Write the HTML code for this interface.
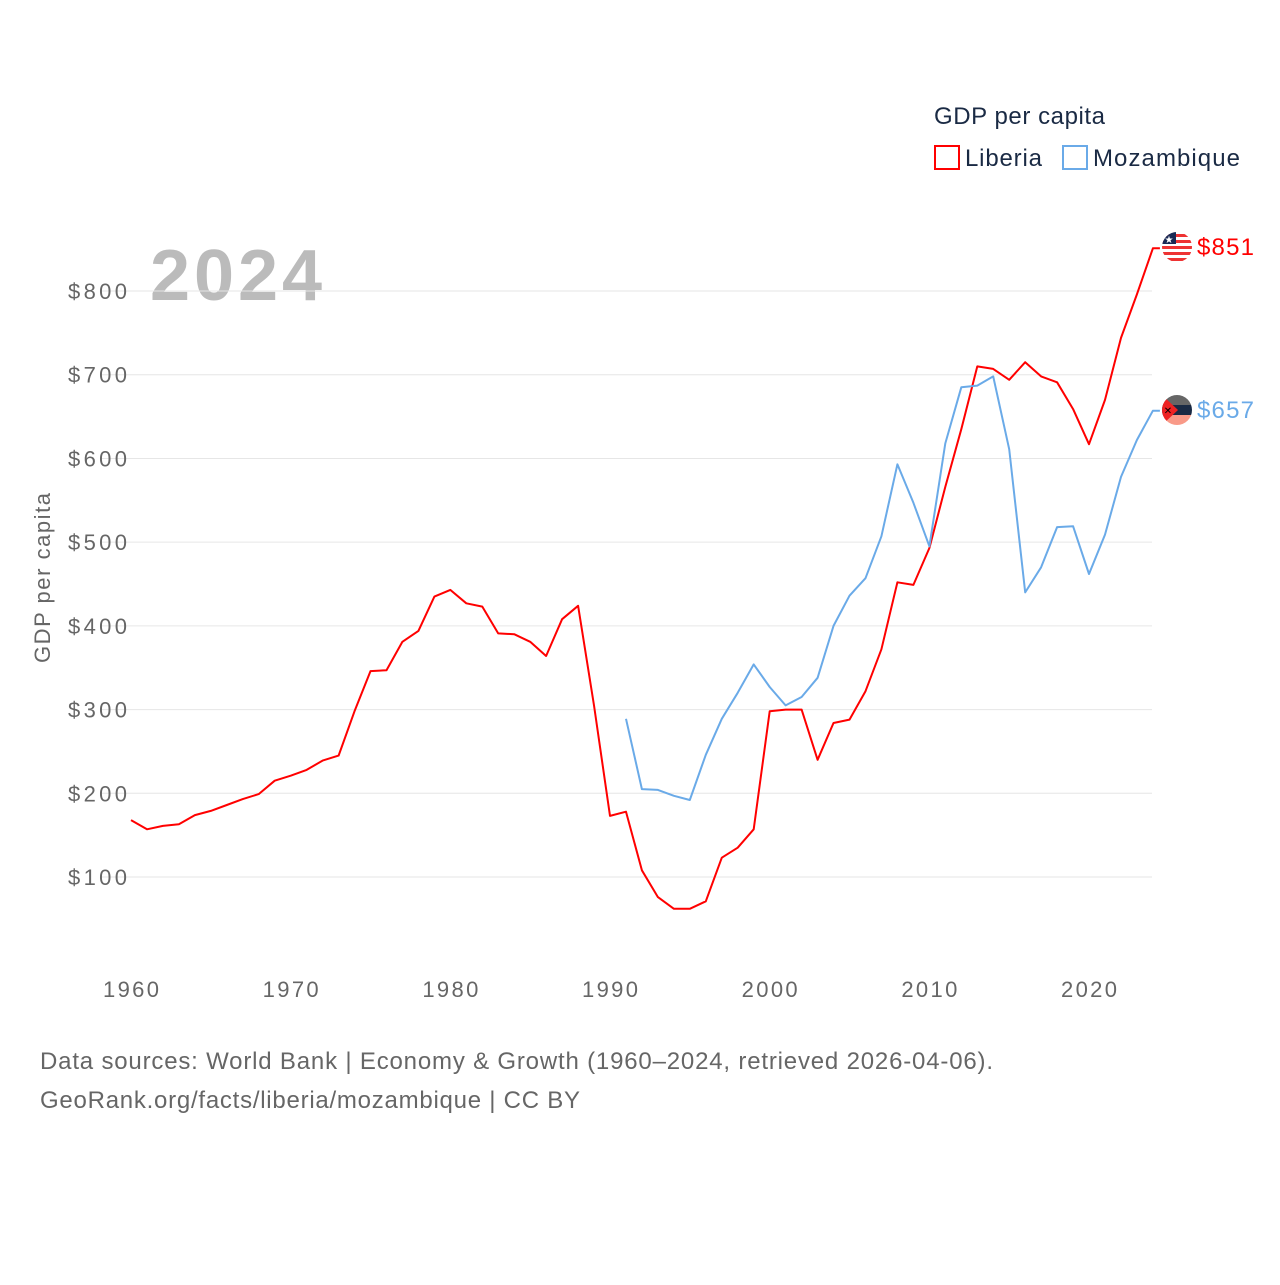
<!DOCTYPE html>
<html><head><meta charset="utf-8"><style>
body{margin:0;background:#fff;font-family:"Liberation Sans",sans-serif}
svg text{font-family:"Liberation Sans",sans-serif}
</style></head><body>
<svg id="chart" width="1280" height="1280" xmlns="http://www.w3.org/2000/svg">
<text x="934" y="124" font-size="24" fill="#1a2a44" textLength="171">GDP per capita</text>
<g><rect x="935" y="146" width="24" height="23" fill="none" stroke="#f00" stroke-width="2"/><text x="965" y="166" font-size="24" fill="#1a2a44" textLength="77">Liberia</text></g>
<g><rect x="1063" y="146" width="24" height="23" fill="none" stroke="#6aaae8" stroke-width="2"/><text x="1093" y="166" font-size="24" fill="#1a2a44" textLength="147">Mozambique</text></g>
<text x="150" y="300" font-size="72" font-weight="bold" fill="#bbb" textLength="172">2024</text>
<text transform="translate(50,578) rotate(-90)" text-anchor="middle" font-size="22" fill="#666" textLength="170">GDP per capita</text>
<g id="grid"></g><g id="xt"></g><g id="lines"></g>
<g>
<clipPath id="c1"><circle cx="1177" cy="247" r="15"/></clipPath>
<g clip-path="url(#c1)"><rect x="1162" y="232" width="30" height="30" fill="#fff"/>
<rect x="1162" y="234" width="30" height="3" fill="#e33"/><rect x="1162" y="240" width="30" height="3" fill="#e33"/><rect x="1162" y="246" width="30" height="3" fill="#e33"/><rect x="1162" y="252" width="30" height="3" fill="#e33"/><rect x="1162" y="258" width="30" height="3" fill="#e33"/>
<rect x="1162" y="232" width="14" height="12" fill="#1a2a55"/><text x="1169" y="243" font-size="10" fill="#fff" text-anchor="middle">★</text></g></g>
<g>
<clipPath id="c2"><circle cx="1177" cy="410" r="15"/></clipPath>
<g clip-path="url(#c2)"><rect x="1162" y="395" width="30" height="10" fill="#666"/><rect x="1162" y="405" width="30" height="10" fill="#1a2a44"/><rect x="1162" y="415" width="30" height="10" fill="#f99a88"/>
<polygon points="1162,395 1178,410 1162,425" fill="#e22"/><text x="1168" y="414" font-size="10" fill="#000" text-anchor="middle">✕</text></g></g>
<text x="1197" y="255" font-size="24" fill="#f00" textLength="57">$851</text>
<text x="1197" y="418" font-size="24" fill="#6aaae8" textLength="57">$657</text>
<text x="40" y="1069" font-size="24" fill="#666" textLength="953">Data sources: World Bank | Economy &amp; Growth (1960–2024, retrieved 2026-04-06).</text>
<text x="40" y="1108" font-size="24" fill="#666" textLength="540">GeoRank.org/facts/liberia/mozambique | CC BY</text>
</svg>
<script>
const yTicks=[100,200,300,400,500,600,700,800];
const xTicks=[1960,1970,1980,1990,2000,2010,2020];
const liberiaStart=1960;
const liberia=[168,157,161,163,174,179,186,193,199,215,221,228,239,245,298,346,347,381,394,435,443,427,423,391,390,381,364,408,424,305,173,178,108,76,62,62,71,123,135,157,298,300,300,240,284,288,322,372,452,449,493,566,635,710,707,694,715,698,691,659,617,670,744,796,851];
const mozStart=1991;
const mozambique=[289,205,204,197,192,246,289,320,354,327,305,315,338,400,436,457,507,593,547,495,618,685,687,698,611,440,470,518,519,462,509,578,622,657];
const NS="http://www.w3.org/2000/svg";
function X(yr){return 131+(yr-1960)*15.967;}
function Y(v){return 877-(v-100)*0.8371;}
function mk(t,a,p){const e=document.createElementNS(NS,t);for(const k in a)e.setAttribute(k,a[k]);p.appendChild(e);return e;}
const grid=document.getElementById('grid');
yTicks.forEach(v=>{
 const l=mk('line',{x1:100,x2:1152,y1:Y(v),y2:Y(v),stroke:'#e6e6e6','stroke-width':1},grid);
 
 
 const t=mk('text',{x:127,y:Y(v)+8,'text-anchor':'end','font-size':22,fill:'#666',textLength:59},grid);
 t.textContent='$'+v;
 
 
});
const xt=document.getElementById('xt');
xTicks.forEach(yr=>{
 const t=mk('text',{x:X(yr),y:997,'text-anchor':'middle','font-size':22,fill:'#666',textLength:56},xt);
 t.textContent=yr;
 
 
});
function series(arr,start,color,name){
 let d=arr.map((v,i)=>(i?'L':'M')+X(start+i).toFixed(1)+','+Y(v).toFixed(1)).join(' ');
 const last=arr[arr.length-1];
 d+=' L'+(X(start+arr.length-1)+7).toFixed(1)+','+Y(last).toFixed(1);
 const p=mk('path',{d:d,fill:'none',stroke:color,'stroke-width':2,'stroke-linejoin':'round'},document.getElementById('lines'));
 
 
}
series(liberia,liberiaStart,'#f00','line-liberia');
series(mozambique,mozStart,'#6aaae8','line-mozambique');
</script>
</body></html>
